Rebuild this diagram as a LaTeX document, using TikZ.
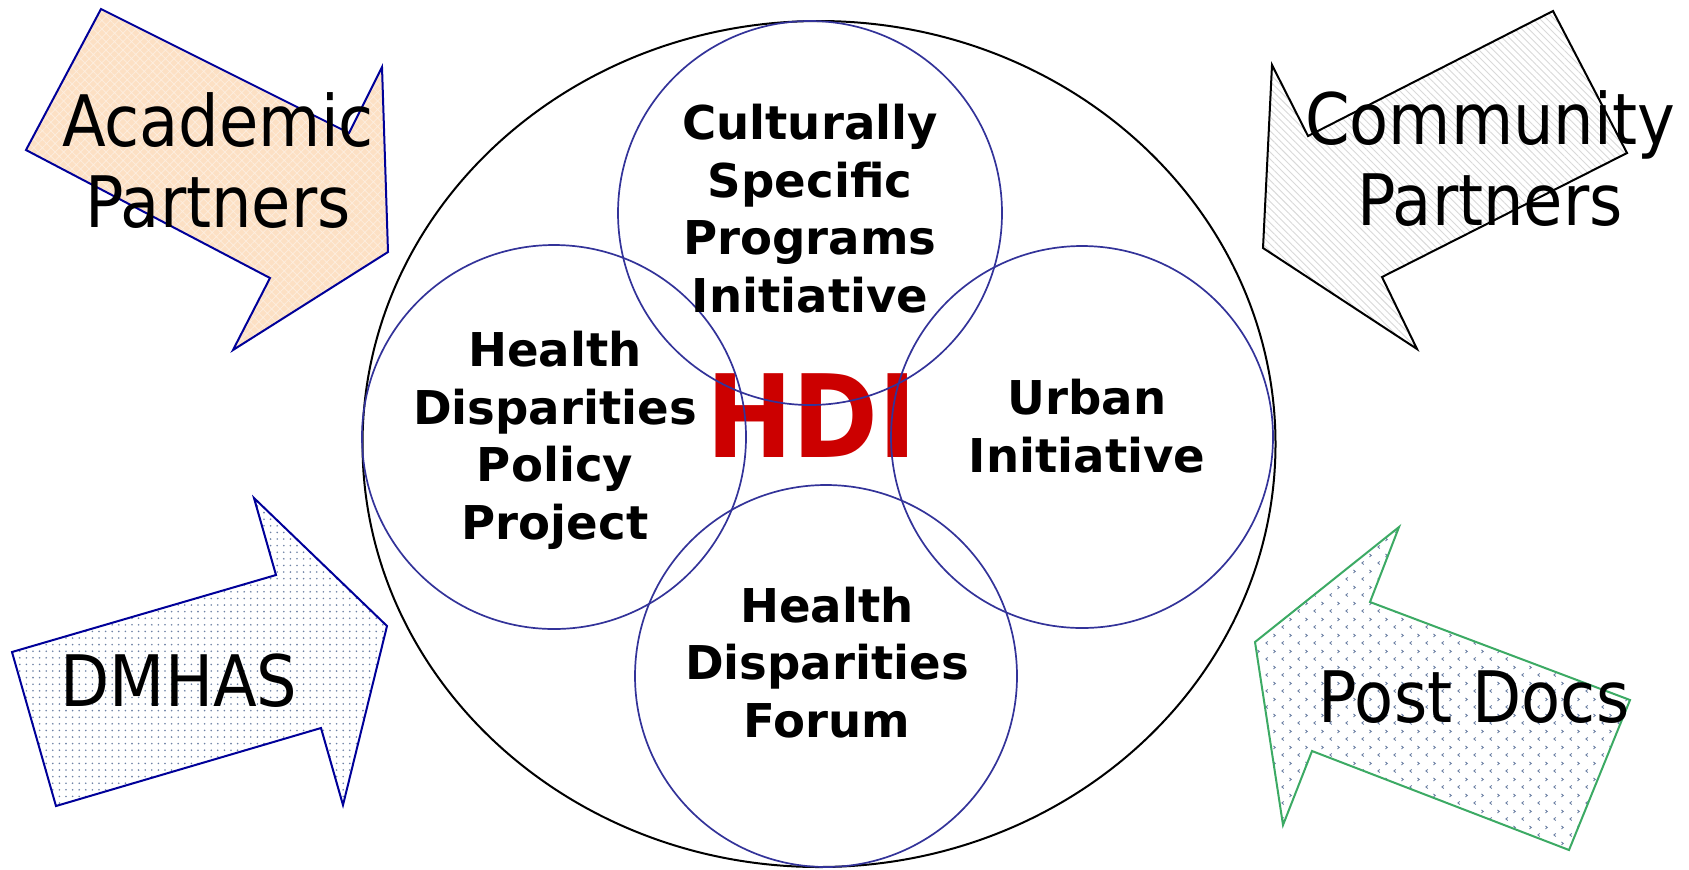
\documentclass[tikz,border=0pt]{standalone}
\usepackage{fontspec}
\usetikzlibrary{patterns.meta}
\newfontfamily\bigfont{DejaVu Sans}[FakeStretch=0.9]
\newfontfamily\dvfont{DejaVu Sans}
\definecolor{navyline}{RGB}{0,0,153}
\definecolor{peach}{RGB}{252,224,196}
\definecolor{circblue}{RGB}{51,51,153}
\definecolor{hdired}{RGB}{204,0,0}
\definecolor{greenline}{RGB}{60,170,100}
\definecolor{dotblue}{RGB}{110,130,165}
\tikzdeclarepattern{
  name=chevrons,
  bounding box={(0pt,0pt) and (8pt,8pt)},
  tile size={(8pt,8pt)},
  code={
    \draw[line width=0.45pt] (2pt,0.8pt) -- (1pt,1.6pt) -- (2pt,2.4pt);
    \draw[line width=0.45pt] (5pt,4.8pt) -- (6pt,5.6pt) -- (5pt,6.4pt);
  }
}
\begin{document}
\begin{tikzpicture}[x=0.5pt,y=-0.5pt,
  arrowshape/.style={line width=1pt, line join=miter},
  biglabel/.style={font=\bigfont\fontsize{35.5}{40.5}\selectfont, align=center, anchor=base, inner sep=0pt},
  boldlabel/.style={font=\dvfont\bfseries\fontsize{23.3}{28.7}\selectfont, align=center, anchor=base, inner sep=0pt},
  ring/.style={draw=circblue, line width=0.85pt}]
\useasboundingbox (0,0) rectangle (1689,869);

% arrows
\draw[arrowshape, draw=navyline, preaction={fill=peach},
  pattern={Hatch[angle=45,distance=3pt,line width=0.35pt]}, pattern color=white!45!peach]
  (101,9) -- (349,133) -- (382,67) -- (388,252) -- (233,350) -- (270,278) -- (26,150) -- cycle;
\draw[arrowshape, draw=black, preaction={fill=white},
  pattern={Lines[angle=-45,distance=2.5pt,line width=0.45pt]}, pattern color=gray!30]
  (1553,11) -- (1627,153) -- (1382,277) -- (1417,349) -- (1263,248) -- (1272,65) -- (1308,136) -- cycle;
\draw[arrowshape, draw=navyline, preaction={fill=white},
  pattern={Dots[distance=3.3pt,radius=0.45pt]}, pattern color=dotblue]
  (12,652) -- (276,575) -- (254,498) -- (387,626) -- (343,805) -- (321,728) -- (56,806) -- cycle;
\draw[arrowshape, draw=greenline, preaction={fill=white},
  pattern=chevrons, pattern color=dotblue]
  (1399,527) -- (1370,602) -- (1630,700) -- (1569,850) -- (1312,751) -- (1283,825) -- (1255,642) -- cycle;

% big ellipse
\draw[line width=1pt] (819,444) ellipse [x radius=456.5, y radius=423];

% HDI
\node[anchor=base, inner sep=0pt, text=hdired, font=\bigfont\bfseries\fontsize{57.5}{60}\selectfont] (hdi) at (811.6,457) {HDI};

% circles
\draw[ring] (810,213) circle [radius=192];
\draw[ring] (554,437) circle [radius=192];
\draw[ring] (1082,437) circle [radius=191];
\draw[ring] (826,676) circle [radius=191];

% labels (base anchor = baseline of the last line)
\node[biglabel] (acad) at (218,227) {Academic\\Partners};
\node[biglabel] (comm) at (1490,225) {Community\\Partners};
\node[biglabel] (dmhas) at (179,706) {DMHAS};
\node[biglabel] (post) at (1474,722) {Post Docs};
\node[boldlabel] (csp) at (810,312) {Culturally\\Specific\\Programs\\Initiative};
\node[boldlabel] (hdpp) at (555,539) {Health\\Disparities\\Policy\\Project};
\node[boldlabel] (urban) at (1087,472) {Urban\\Initiative};
\node[boldlabel] (forum) at (827,737) {Health\\Disparities\\Forum};
\end{tikzpicture}
\end{document}
